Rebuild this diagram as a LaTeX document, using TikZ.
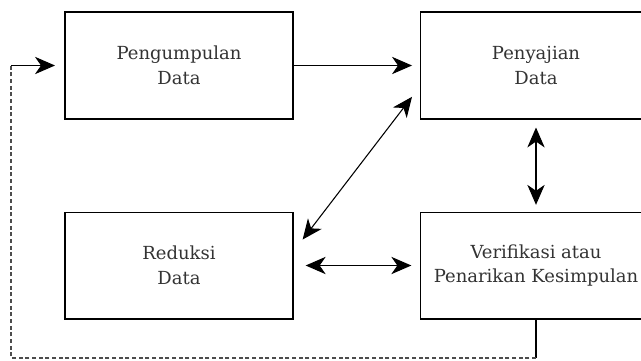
\documentclass[tikz,border=0pt]{standalone}
\usepackage{fontspec}
\setmainfont{DejaVu Serif}
\usepackage{tikz}
\usetikzlibrary{positioning}
\usetikzlibrary{calc,arrows.meta}

\tikzset{
	stage/.style={draw, line width=1pt, minimum width=171pt, minimum height=80pt,
		align=center, font=\fontsize{13.5}{18.5}\selectfont, text=black!80},
	flow/.style={line width=0.8pt, -{Stealth[length=15pt,width=13pt,inset=4.5pt]}},
	twoway/.style={line width=0.8pt, {Stealth[length=15pt,width=13pt,inset=4.5pt]}-{Stealth[length=15pt,width=13pt,inset=4.5pt]}}
}

\begin{document}
\begin{tikzpicture}[x=0.75pt, y=-0.75pt]
	
	% picture frame, boxes on the right run past it
	\useasboundingbox (0,0) rectangle (641,360);
	\clip (0,0) rectangle (641,360);
	
	% the four stages, placed at their centres
	\node[stage] (Kumpul) at (179,65.5) {Pengumpulan\\Data};
	\node[stage, minimum width=173pt] (Saji) at (536,65.5) {Penyajian\\Data};
	\node[stage] (Reduksi) at (179,265.5) {Reduksi\\Data};
	\node[stage, minimum width=173pt] (Simpul) at (536,265.5) {Verifikasi atau\\Penarikan Kesimpulan};
	
	% corner points of the feedback line
	\coordinate (FbBawah) at (11,358);
	\coordinate (FbAtas) at (11,65.5);
	
	%%%%%%%%%%%%%%%%%%%%%%%%%%%%%%%%%%%%%%%%%%%%%%%%%%%%%%%%%%%%%%
	\draw[flow, shorten >=6pt] (Kumpul) -- (Saji);
	\draw[twoway] ([shift={(6.75pt,-21pt)}]Reduksi.north east) -- ([shift={(-6pt,17pt)}]Saji.south west);
	\draw[twoway, shorten <=6pt, shorten >=5pt] (Saji.south) -- (Simpul.north);
	\draw[twoway, shorten <=9pt, shorten >=6.5pt] (Reduksi.east) -- (Simpul.west);
	
	% feedback from conclusion back to collection
	\draw[line width=0.8pt] (Simpul.south) -- (Simpul.south |- FbBawah);
	\draw[line width=0.8pt, dash pattern=on 3pt off 2pt, black!70] (Simpul.south |- FbBawah) -- (FbBawah) -- (FbAtas);
	\draw[flow, shorten >=7pt] (FbAtas) -- (Kumpul.west);
	
\end{tikzpicture}
\end{document}
